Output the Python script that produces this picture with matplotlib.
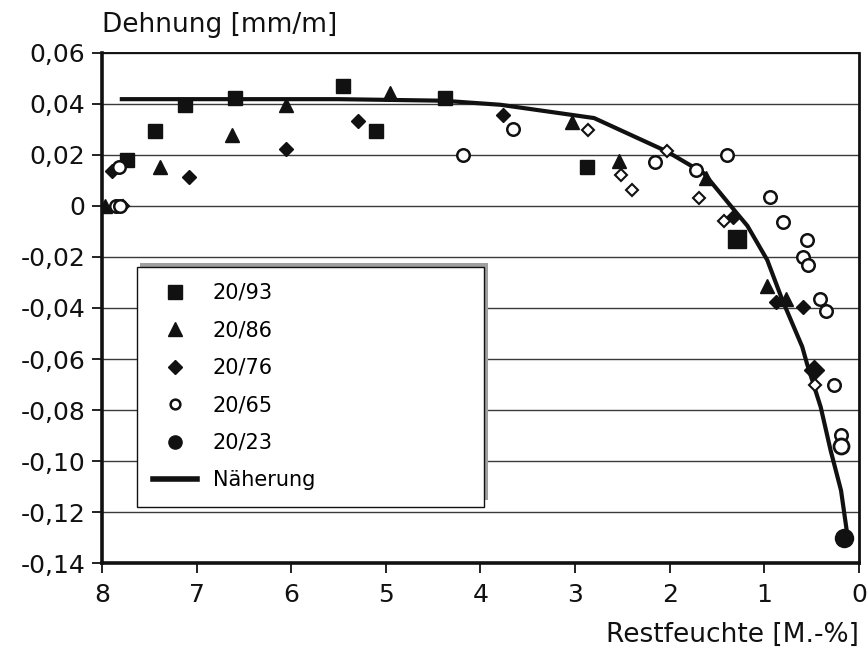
import matplotlib
matplotlib.use("Agg")
import matplotlib.pyplot as plt
from matplotlib.lines import Line2D
from matplotlib.patches import Rectangle
from matplotlib.ticker import FuncFormatter, MultipleLocator

plt.rcParams['font.family'] = ['DejaVu Sans']

# 20/93 (gefüllte Quadrate)
sq_x = [7.74, 7.44, 7.12, 6.59, 5.45, 5.10, 4.37, 2.87]
sq_y = [0.0181, 0.0292, 0.0396, 0.0423, 0.0468, 0.0292, 0.0423, 0.0154]
sq_big_x = [1.29]
sq_big_y = [-0.0131]

# 20/86 (Dreiecke)
tri_x = [7.97, 7.39, 6.63, 6.06, 4.96, 3.03, 2.54, 1.62, 0.97, 0.77]
tri_y = [0.0, 0.0154, 0.0279, 0.0396, 0.0442, 0.0327, 0.0177, 0.0109, -0.0314, -0.0366]

# 20/76 (Rauten)
dia_x = [7.89, 7.08, 6.06, 5.29, 3.76, 1.33, 0.88, 0.59]
dia_y = [0.0135, 0.0113, 0.0223, 0.0334, 0.0357, -0.0042, -0.0376, -0.0398]
dia_big_x = [0.48]
dia_big_y = [-0.0644]

# offene Rauten (ohne Legendeneintrag)
odia_x = [7.78, 2.86, 2.51, 2.40, 2.03, 1.69, 1.43, 0.46]
odia_y = [0.0, 0.0298, 0.0119, 0.0063, 0.0213, 0.003, -0.0059, -0.070]

# 20/65 (offene Kreise)
circ_x = [7.85, 7.81, 7.82, 4.18, 3.66, 2.16, 1.72, 1.40, 0.94, 0.80,
          0.55, 0.59, 0.535, 0.41, 0.35, 0.26, 0.19]
circ_y = [0.0, 0.0, 0.0152, 0.020, 0.0301, 0.0170, 0.0141, 0.020, 0.0033, -0.0062,
          -0.0133, -0.0199, -0.0232, -0.0365, -0.0412, -0.070, -0.0899]
circ_big_x = [0.19]
circ_big_y = [-0.0942]

# 20/23
dot_x = [0.16]
dot_y = [-0.1302]

# Näherung
fit_x = [7.79, 5.5, 4.4, 3.79, 2.80, 2.03, 1.64, 1.32, 1.18, 0.97, 0.81,
         0.60, 0.55, 0.405, 0.30, 0.19, 0.12]
fit_y = [0.0418, 0.0418, 0.0412, 0.0396, 0.0344, 0.0213, 0.0128, -0.0016, -0.0078,
         -0.0212, -0.0369, -0.0552, -0.0618, -0.0788, -0.0958, -0.1115, -0.1298]

legend_labels = ["20/93", "20/86", "20/76", "20/65", "20/23", "Näherung"]

fig = plt.figure(figsize=(8.67, 6.53), dpi=100)
ax = fig.add_axes([0.1176, 0.1374, 0.8732, 0.7819])

ax.plot(fit_x, fit_y, color="#111111", lw=3, zorder=3, solid_joinstyle="round")

mk = dict(linestyle="none", color="#111111", zorder=4)
ax.plot(sq_x, sq_y, marker="s", ms=9.5, **mk)
ax.plot(sq_big_x, sq_big_y, marker="s", ms=12.5, **mk)
ax.plot(tri_x, tri_y, marker="^", ms=9.5, **mk)
ax.plot(dia_x, dia_y, marker="D", ms=7, **mk)
ax.plot(dia_big_x, dia_big_y, marker="D", ms=10, **mk)
ax.plot(odia_x, odia_y, marker="D", ms=6.3, mfc="white", mec="#111111", mew=1.5,
        linestyle="none", zorder=4)
ax.plot(circ_x, circ_y, marker="o", ms=9, mfc="white", mec="#111111", mew=1.8,
        linestyle="none", zorder=4)
ax.plot(circ_big_x, circ_big_y, marker="o", ms=10.8, mfc="white", mec="#111111", mew=2,
        linestyle="none", zorder=4)
ax.plot(dot_x, dot_y, marker="o", ms=13, **mk)

ax.set_xlim(8, 0)
ax.set_ylim(-0.14, 0.06)
ax.xaxis.set_major_locator(MultipleLocator(1))
ax.yaxis.set_major_locator(MultipleLocator(0.02))


def komma(v, pos):
    if abs(v) < 1e-9:
        return "0"
    return f"{v:.2f}".replace(".", ",")


ax.yaxis.set_major_formatter(FuncFormatter(komma))
ax.xaxis.set_major_formatter(FuncFormatter(lambda v, p: f"{v:.0f}"))
ax.tick_params(direction="out", length=7, width=1.3, labelsize=18, color="#111111",
               labelcolor="#111111")
ax.tick_params(axis="x", pad=7)
ax.tick_params(axis="y", pad=5)

ax.grid(axis="y", color="#3a3a3a", lw=1.0)
ax.set_axisbelow(True)
for side, w in [("left", 2.6), ("bottom", 2.6), ("right", 2.0), ("top", 1.4)]:
    ax.spines[side].set_linewidth(w)
    ax.spines[side].set_color("#111111")

ax.text(0.0, 1.0405, "Dehnung [mm/m]", transform=ax.transAxes, ha="left",
        va="baseline", fontsize=19, color="#111111")
ax.text(1.0, -0.1535, "Restfeuchte [M.-%]", transform=ax.transAxes, ha="right",
        va="baseline", fontsize=19, color="#111111")

handles = [
    Line2D([], [], marker="s", ms=9.5, color="#111111", linestyle="none"),
    Line2D([], [], marker="^", ms=9.5, color="#111111", linestyle="none"),
    Line2D([], [], marker="D", ms=7, color="#111111", linestyle="none"),
    Line2D([], [], marker="o", ms=7, mfc="white", mec="#111111", mew=1.8, linestyle="none"),
    Line2D([], [], marker="o", ms=9.5, color="#111111", linestyle="none"),
    Line2D([], [], color="#111111", lw=4),
]

# Schatten hinter der Legende (nach oben rechts versetzt)
ax.add_patch(Rectangle((0.0502, 0.124), 0.4601, 0.4635, transform=ax.transAxes,
                       facecolor="#a0a0a0", edgecolor="none", zorder=9))
leg = ax.legend(handles, legend_labels, loc="upper left",
                bbox_to_anchor=(0.0458, 0.1109, 0.459, 0.470), mode="expand",
                borderaxespad=0, fontsize=15, frameon=True, fancybox=False,
                edgecolor="#111111", framealpha=1, handlelength=2.1,
                handletextpad=0.77, labelspacing=0.84, borderpad=0.78)
leg.get_frame().set_linewidth(1.0)
leg.set_zorder(10)

fig.savefig("out.png", dpi=100, facecolor="white")
